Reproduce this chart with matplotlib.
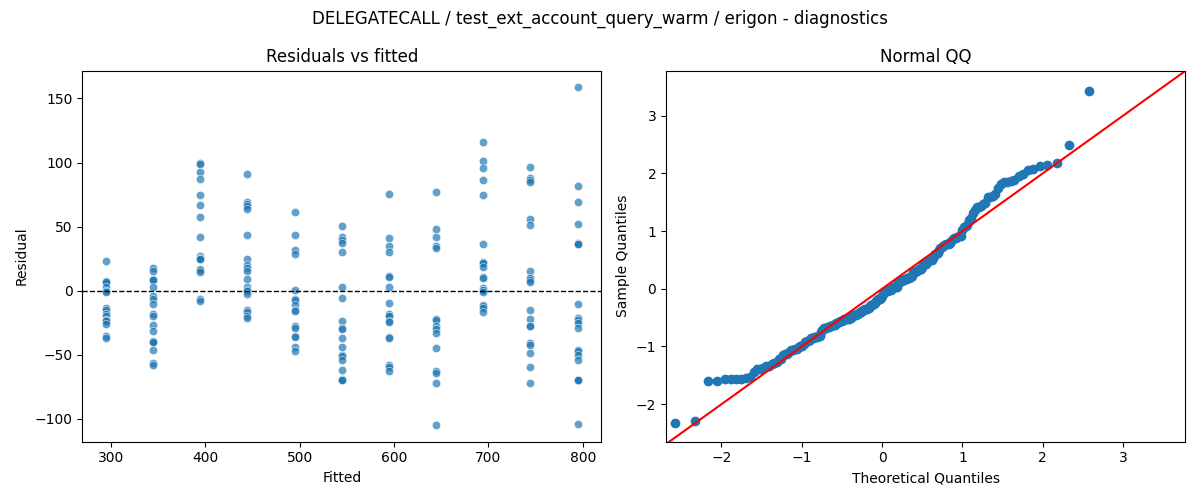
import matplotlib
matplotlib.use("Agg")
import matplotlib.pyplot as plt
import seaborn as sns
import numpy as np
import pandas as pd
from statistics import NormalDist

# fitted values (one per group) and residuals
fitted_levels = [294.5, 344.5, 394.5, 444.5, 494.5, 544.5, 594.5, 644.5, 694.5, 744.5, 794.5]

res_295 = [23.4, 7.8, 6.7, 6.7, 2.9, 0.0, -1.3, -13.5, -15.3, -17.9, -20.0,
           -22.6, -22.6, -23.9, -25.7, -35.6, -37.1]
res_345 = [17.4, 15.6, 9.1, 8.6, 8.6, 2.9, -4.4, -6.5, -10.4, -18.2, -19.5,
           -27.0, -31.4, -39.4, -40.2, -40.2, -45.9, -56.3, -58.1]
res_395 = [99.7, 99.1, 92.4, 86.9, 74.5, 66.7, 57.4, 41.8, 27.5, 25.9, 24.7, 24.7,
           17.1, 16.4, 14.5, -6.2, -7.8]
res_445 = [90.8, 69.3, 67.5, 66.4, 64.1, 43.3, 24.7, 20.2, 17.6, 15.1, 9.1, 2.9,
           0.8, -0.5, -2.6, -14.8, -16.9, -19.5, -21.3]
res_495 = [61.3, 43.3, 31.9, 28.8, 0.8, -6.2, -7.0, -10.9, -15.3, -16.1, -27.3,
           -29.1, -35.6, -36.3, -44.1, -47.2]
res_545 = [50.6, 42.3, 39.7, 37.6, 30.1, 2.9, -5.7, -23.6, -29.3, -29.8, -36.6,
           -43.9, -49.8, -51.1, -53.7, -61.5, -68.5, -69.8, -69.8]
res_595 = [75.3, 41.0, 35.3, 30.1, 11.7, 10.6, 2.9, -9.6, -18.2, -19.5, -19.5,
           -23.9, -24.4, -36.3, -37.1, -57.6, -59.7, -62.3]
res_645 = [76.8, 48.0, 41.8, 35.0, 33.7, -22.1, -23.1, -27.8, -29.8, -33.0, -44.6,
           -62.3, -64.1, -71.9, -104.6]
res_695 = [115.8, 101.5, 95.5, 86.2, 74.5, 36.3, 22.6, 21.5, 21.5, 18.9, 10.6, 9.9,
           2.1, 0.3, 0.3, -1.0, -10.9, -12.2, -13.5, -16.6]
res_745 = [96.3, 87.7, 86.4, 84.6, 56.1, 51.1, 15.3, 9.9, 9.9, 8.6, 7.0, -14.8,
           -22.1, -27.3, -27.8, -40.7, -42.3, -48.5, -59.4, -71.9]
res_795 = [158.6, 81.5, 69.0, 52.2, 37.1, 36.8, 36.8, -10.4, -21.3, -22.6, -25.2,
           -29.1, -46.5, -47.2, -50.3, -54.2, -69.3, -69.8, -69.8, -103.6]

groups = [res_295, res_345, res_395, res_445, res_495, res_545,
          res_595, res_645, res_695, res_745, res_795]

fitted = np.concatenate([[f] * len(g) for f, g in zip(fitted_levels, groups)])
resid = np.concatenate(groups)
df = pd.DataFrame({"fitted": fitted, "resid": resid})

# normal QQ: standardised residuals vs normal quantiles
n = len(resid)
sample_q = np.sort((resid - resid.mean()) / resid.std())
nd = NormalDist()
theo_q = np.array([nd.inv_cdf(i / (n + 1)) for i in range(1, n + 1)])

fig, (ax1, ax2) = plt.subplots(1, 2, figsize=(12, 5), dpi=100)
fig.suptitle("DELEGATECALL / test_ext_account_query_warm / erigon - diagnostics")

sns.scatterplot(data=df, x="fitted", y="resid", alpha=0.7, ax=ax1)
ax1.axhline(0, color="black", linestyle="--", linewidth=1)
ax1.set_title("Residuals vs fitted")
ax1.set_xlabel("Fitted")
ax1.set_ylabel("Residual")

ax2.plot(theo_q, sample_q, "o", color="C0", markersize=6)
lims = [-2.69, 3.78]
ax2.plot(lims, lims, "r-")
ax2.set_xlim(-2.69, 3.77)
ax2.set_ylim(-2.65, 3.78)
ax2.set_title("Normal QQ")
ax2.set_xlabel("Theoretical Quantiles")
ax2.set_ylabel("Sample Quantiles")

fig.tight_layout()
fig.savefig("out.png")
